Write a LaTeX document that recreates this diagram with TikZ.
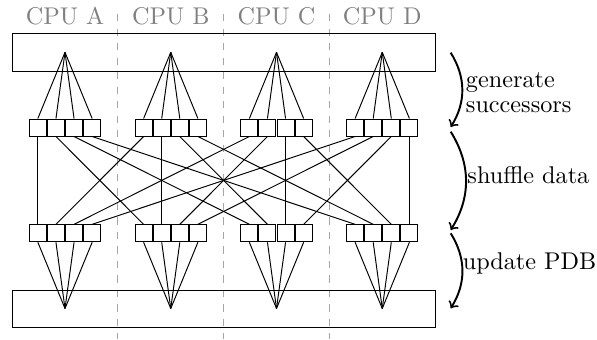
\documentclass[tikz,border=0pt]{standalone}
\def\u{0.4132pt}
\begin{document}
\begin{tikzpicture}[x=\u, y=-\u,
  bigbox/.style={draw, minimum width=423*\u, minimum height=37.7*\u, inner sep=0pt},
  smallbox/.style={draw, minimum size=17*\u, inner sep=0pt, fill=white},
  cpulabel/.style={text=black!50, anchor=base, inner sep=0pt},
  sepline/.style={draw=black!35, dashed},
  flow/.style={thick, ->, bend left=32},
  steplabel/.style={anchor=base west, inner sep=0pt},
  wire/.style={draw, line width=0.4pt}]
\useasboundingbox (0,0) rectangle (597,339);
% separators
\foreach \k/\x in {1/117.9, 2/223.6, 3/329.4} {
  \coordinate (s\k t) at (\x,14);
  \coordinate (s\k b) at (\x,339);
  \draw[sepline] (s\k t) -- (s\k b);
}
% CPU labels
\node[cpulabel] (cpuA) at (65,24) {CPU A};
\node[cpulabel] (cpuB) at (170.75,24) {CPU B};
\node[cpulabel] (cpuC) at (276.5,24) {CPU C};
\node[cpulabel] (cpuD) at (382.25,24) {CPU D};
% big boxes
\node[bigbox] (top) at (223.6,52.2) {};
\node[bigbox] (bot) at (223.6,309) {};
% apex points and small boxes
\foreach \j in {0,...,3} {
  \pgfmathsetmacro{\cx}{65+105.75*\j}
  \coordinate (ta\j) at (\cx,52.3);
  \coordinate (ba\j) at (\cx,308.5);
  \foreach \i in {0,...,3} {
    \pgfmathsetmacro{\bx}{\cx+(\i-1.5)*18.1}
    \node[smallbox] (t\j\i) at (\bx,127.5) {};
    \node[smallbox] (b\j\i) at (\bx,233.3) {};
  }
}
% connectors
\foreach \j in {0,...,3} {
  \foreach \i in {0,...,3} {
    \draw[wire] (ta\j) -- (t\j\i.north);
    \draw[wire] (b\j\i.south) -- (ba\j);
    \draw[wire] (t\j\i.south) -- (b\i\j.north);
  }
}
% step arrows
\coordinate (a0) at (450.7,52.7);
\coordinate (a1) at (450.7,127);
\coordinate (a2) at (450.7,131.7);
\coordinate (a3) at (450.7,230);
\coordinate (a4) at (450.7,233.3);
\coordinate (a5) at (450.7,308.3);
\draw[flow] (a0) to (a1);
\draw[flow] (a2) to (a3);
\draw[flow] (a4) to (a5);
\node[steplabel] (lg) at (465.5,112.7) {\begin{tabular}[b]{@{}l@{}}generate\\[-1.4pt]successors\end{tabular}};
\node[steplabel] (ls) at (467,183) {shuffle data};
\node[steplabel] (lu) at (462.3,269.5) {update PDB};
\end{tikzpicture}
\end{document}
